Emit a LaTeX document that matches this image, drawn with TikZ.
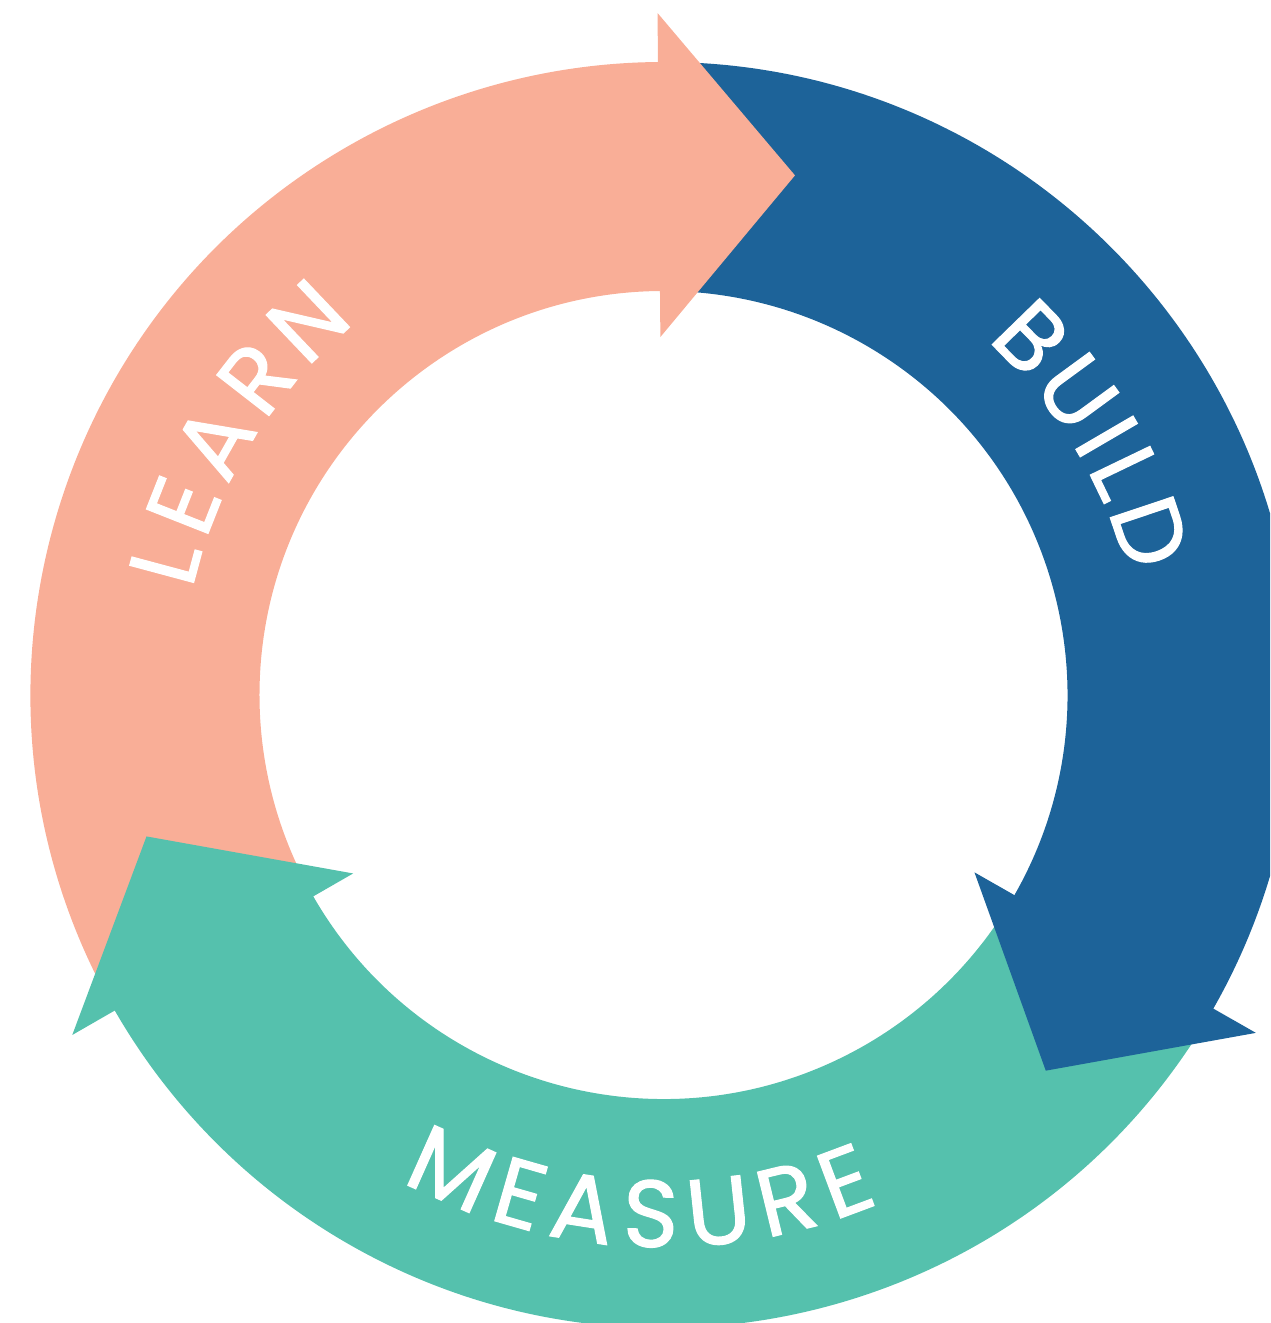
\documentclass[tikz,border=0pt]{standalone}
\usepackage{fontspec}
\newfontfamily\poppins[FakeBold=1.2]{Poppins}
\usetikzlibrary{decorations.text}

\definecolor{learncol}{HTML}{F9AE97}
\definecolor{buildcol}{HTML}{1D6399}
\definecolor{measurecol}{HTML}{55C1AD}

\newcommand{\labelfont}{\poppins\fontsize{27}{30}\selectfont}

\begin{document}
\begin{tikzpicture}[
  learn/.style={fill=learncol},
  build/.style={fill=buildcol},
  measure/.style={fill=measurecol},
  ringtext/.style={decorate,decoration={text along path,text color=white,
    text align=fit to path,text={|\labelfont|#1}}}
]
  \useasboundingbox (-6.635,-6.28) rectangle (6.065,6.95);
  \clip (-6.635,-6.28) rectangle (6.065,6.95);

  % ring segments (each one runs a little under the heads)
  \fill[learn] (209.2:6.33) arc[start angle=209.2,end angle=89,radius=6.33]
    -- (89:4.04) arc[start angle=89,end angle=209.2,radius=4.04] -- cycle;
  \fill[build] (89.8:6.33) arc[start angle=89.8,end angle=-31.2,radius=6.33]
    -- (-31.2:4.04) arc[start angle=-31.2,end angle=89.8,radius=4.04] -- cycle;
  \fill[measure] (-30.4:6.33) arc[start angle=-30.4,end angle=-151.6,radius=6.33]
    -- (-151.6:4.04) arc[start angle=-151.6,end angle=-30.4,radius=4.04] -- cycle;

  % arrow heads
  \fill[learn] (90.5:6.82) -- (75.8:5.36) -- (90.5:3.58) -- cycle;
  \fill[build] (-29.7:6.82) -- (-44.5:5.36) -- (-29.7:3.58) -- cycle;
  \fill[measure] (209.9:6.82) -- (195.3:5.36) -- (209.9:3.58) -- cycle;

  % labels
  \path[ringtext=LEARN] (167.4:4.83) arc[start angle=167.4,end angle=129.6,radius=4.83];
  \path[ringtext=BUILD] (47.7:4.80) arc[start angle=47.7,end angle=14.5,radius=4.80];
  \path[ringtext=MEASURE] (241.7:5.52) arc[start angle=241.7,end angle=293.0,radius=5.52];
\end{tikzpicture}
\end{document}
